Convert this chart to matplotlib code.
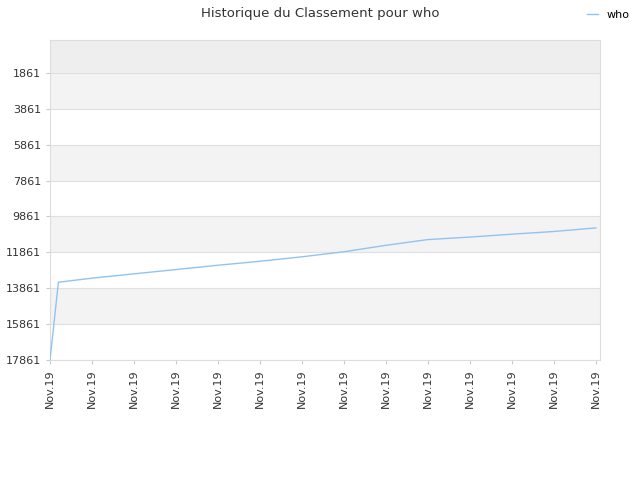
import matplotlib
matplotlib.use("Agg")
import matplotlib.pyplot as plt

x = [0, 0.2, 1, 2, 3, 4, 5, 6, 7, 8, 9, 10, 11, 12, 13]
ranks = [17861, 13528, 13300, 13060, 12820, 12580, 12360, 12110, 11830, 11470, 11150, 11010, 10850, 10700, 10500]
tick_pos = list(range(14))
tick_labels = ["Nov.19"] * 14
yticks = [1861, 3861, 5861, 7861, 9861, 11861, 13861, 15861, 17861]

fig = plt.figure(figsize=(6.4, 4.8), dpi=100)
ax = fig.add_axes([50/640, 1-360/480, 550/640, 320/480])
ytop = 28
ax.set_ylim(17861, ytop)
ax.set_xlim(0, 13.1)
edges = [ytop] + yticks
for i in range(len(edges)-1):
    c = "#eeeeee" if i == 0 else ("#f3f3f3" if i % 2 == 1 else "white")
    ax.axhspan(edges[i], edges[i+1], color=c, zorder=0, lw=0)
for y in yticks:
    ax.axhline(y, color="#e0e0e0", lw=0.8, zorder=1)
ax.plot(x, ranks, color="#90c4f0", lw=1.0, zorder=3, label="who")
ax.set_yticks(yticks)
ax.set_yticklabels([str(v) for v in yticks], fontsize=8, color="#333333")
ax.set_xticks(tick_pos)
ax.set_xticklabels(tick_labels, rotation=90, fontsize=8, color="#333333")
for s in ax.spines.values():
    s.set_color("#dddddd")
ax.tick_params(length=3, color="#cccccc")
fig.suptitle("Historique du Classement pour who", fontsize=9.5, color="#333333", y=0.985)
fig.legend(loc="upper right", bbox_to_anchor=(1.0, 1.0), frameon=False, fontsize=8, handlelength=1)
fig.savefig("out.png")
